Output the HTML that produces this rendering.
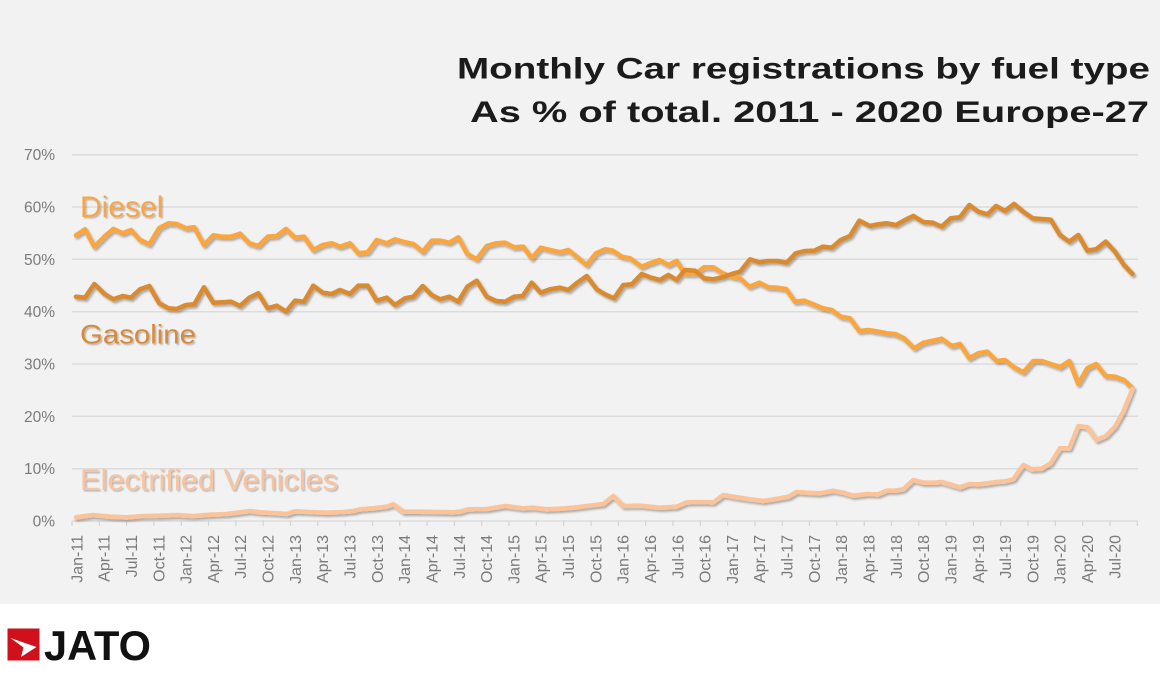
<!DOCTYPE html>
<html>
<head>
<meta charset="utf-8">
<style>
  html, body { margin: 0; padding: 0; background: #ffffff; }
  svg { display: block; }
  text { font-family: "Liberation Sans", Arial, sans-serif; }
</style>
</head>
<body>
<svg width="1160" height="680" viewBox="0 0 1160 680" xmlns="http://www.w3.org/2000/svg">
  <defs>
    <filter id="sh" x="-5%" y="-20%" width="110%" height="140%">
      <feDropShadow dx="1.6" dy="2" stdDeviation="1.1" flood-color="#000" flood-opacity="0.3"/>
    </filter>
    <filter id="tsh" x="-5%" y="-20%" width="110%" height="140%">
      <feDropShadow dx="1.5" dy="1.5" stdDeviation="0.9" flood-color="#000" flood-opacity="0.25"/>
    </filter>
  </defs>

  <!-- backgrounds -->
  <rect x="0" y="0" width="1160" height="680" fill="#ffffff"/>
  <rect x="0" y="0" width="1160" height="604" fill="#f2f2f2"/>

  <!-- title -->
  <text x="457" y="78.5" font-size="30" font-weight="bold" fill="#1b1b1b" textLength="693" lengthAdjust="spacingAndGlyphs">Monthly Car registrations by fuel type</text>
  <text x="470" y="122" font-size="30" font-weight="bold" fill="#1b1b1b" textLength="679" lengthAdjust="spacingAndGlyphs">As % of total. 2011 - 2020 Europe-27</text>

  <!-- gridlines -->
  <g stroke="#dcdcdc" stroke-width="1.5">
    <line x1="72" y1="154.7" x2="1138" y2="154.7"/>
    <line x1="72" y1="207" x2="1138" y2="207"/>
    <line x1="72" y1="259.3" x2="1138" y2="259.3"/>
    <line x1="72" y1="311.7" x2="1138" y2="311.7"/>
    <line x1="72" y1="364" x2="1138" y2="364"/>
    <line x1="72" y1="416.3" x2="1138" y2="416.3"/>
    <line x1="72" y1="468.7" x2="1138" y2="468.7"/>
    <line x1="72" y1="521" x2="1138" y2="521"/>
  </g>

  <!-- y labels -->
  <g font-size="15.5" fill="#7a7a7a" text-anchor="end">
    <text x="55" y="160.2">70%</text>
    <text x="55" y="212.5">60%</text>
    <text x="55" y="264.8">50%</text>
    <text x="55" y="317.2">40%</text>
    <text x="55" y="369.5">30%</text>
    <text x="55" y="421.8">20%</text>
    <text x="55" y="474.2">10%</text>
    <text x="55" y="526.5">0%</text>
  </g>

  <!-- ticks -->
  <g stroke="#d4d4d4" stroke-width="1.2">
    <line x1="72" y1="521" x2="72" y2="526"/>
    <line x1="99.3" y1="521" x2="99.3" y2="526"/>
    <line x1="126.6" y1="521" x2="126.6" y2="526"/>
    <line x1="153.9" y1="521" x2="153.9" y2="526"/>
    <line x1="181.3" y1="521" x2="181.3" y2="526"/>
    <line x1="208.6" y1="521" x2="208.6" y2="526"/>
    <line x1="235.9" y1="521" x2="235.9" y2="526"/>
    <line x1="263.2" y1="521" x2="263.2" y2="526"/>
    <line x1="290.5" y1="521" x2="290.5" y2="526"/>
    <line x1="317.8" y1="521" x2="317.8" y2="526"/>
    <line x1="345.2" y1="521" x2="345.2" y2="526"/>
    <line x1="372.5" y1="521" x2="372.5" y2="526"/>
    <line x1="399.8" y1="521" x2="399.8" y2="526"/>
    <line x1="427.1" y1="521" x2="427.1" y2="526"/>
    <line x1="454.4" y1="521" x2="454.4" y2="526"/>
    <line x1="481.7" y1="521" x2="481.7" y2="526"/>
    <line x1="509" y1="521" x2="509" y2="526"/>
    <line x1="536.4" y1="521" x2="536.4" y2="526"/>
    <line x1="563.7" y1="521" x2="563.7" y2="526"/>
    <line x1="591" y1="521" x2="591" y2="526"/>
    <line x1="618.3" y1="521" x2="618.3" y2="526"/>
    <line x1="645.6" y1="521" x2="645.6" y2="526"/>
    <line x1="672.9" y1="521" x2="672.9" y2="526"/>
    <line x1="700.3" y1="521" x2="700.3" y2="526"/>
    <line x1="727.6" y1="521" x2="727.6" y2="526"/>
    <line x1="754.9" y1="521" x2="754.9" y2="526"/>
    <line x1="782.2" y1="521" x2="782.2" y2="526"/>
    <line x1="809.5" y1="521" x2="809.5" y2="526"/>
    <line x1="836.8" y1="521" x2="836.8" y2="526"/>
    <line x1="864.2" y1="521" x2="864.2" y2="526"/>
    <line x1="891.5" y1="521" x2="891.5" y2="526"/>
    <line x1="918.8" y1="521" x2="918.8" y2="526"/>
    <line x1="946.1" y1="521" x2="946.1" y2="526"/>
    <line x1="973.4" y1="521" x2="973.4" y2="526"/>
    <line x1="1000.7" y1="521" x2="1000.7" y2="526"/>
    <line x1="1028" y1="521" x2="1028" y2="526"/>
    <line x1="1055.4" y1="521" x2="1055.4" y2="526"/>
    <line x1="1082.7" y1="521" x2="1082.7" y2="526"/>
    <line x1="1110" y1="521" x2="1110" y2="526"/>
    <line x1="1137.3" y1="521" x2="1137.3" y2="526"/>
  </g>

  <!-- x labels (rotated) -->
  <g font-size="16" fill="#7a7a7a" text-anchor="end">
    <text transform="translate(82.4,535) rotate(-90)">Jan-11</text>
    <text transform="translate(109.7,535) rotate(-90)">Apr-11</text>
    <text transform="translate(137,535) rotate(-90)">Jul-11</text>
    <text transform="translate(164.3,535) rotate(-90)">Oct-11</text>
    <text transform="translate(191.6,535) rotate(-90)">Jan-12</text>
    <text transform="translate(218.9,535) rotate(-90)">Apr-12</text>
    <text transform="translate(246.2,535) rotate(-90)">Jul-12</text>
    <text transform="translate(273.6,535) rotate(-90)">Oct-12</text>
    <text transform="translate(300.9,535) rotate(-90)">Jan-13</text>
    <text transform="translate(328.2,535) rotate(-90)">Apr-13</text>
    <text transform="translate(355.5,535) rotate(-90)">Jul-13</text>
    <text transform="translate(382.8,535) rotate(-90)">Oct-13</text>
    <text transform="translate(410.1,535) rotate(-90)">Jan-14</text>
    <text transform="translate(437.5,535) rotate(-90)">Apr-14</text>
    <text transform="translate(464.8,535) rotate(-90)">Jul-14</text>
    <text transform="translate(492.1,535) rotate(-90)">Oct-14</text>
    <text transform="translate(519.4,535) rotate(-90)">Jan-15</text>
    <text transform="translate(546.7,535) rotate(-90)">Apr-15</text>
    <text transform="translate(574,535) rotate(-90)">Jul-15</text>
    <text transform="translate(601.4,535) rotate(-90)">Oct-15</text>
    <text transform="translate(628.7,535) rotate(-90)">Jan-16</text>
    <text transform="translate(656,535) rotate(-90)">Apr-16</text>
    <text transform="translate(683.3,535) rotate(-90)">Jul-16</text>
    <text transform="translate(710.6,535) rotate(-90)">Oct-16</text>
    <text transform="translate(737.9,535) rotate(-90)">Jan-17</text>
    <text transform="translate(765.2,535) rotate(-90)">Apr-17</text>
    <text transform="translate(792.6,535) rotate(-90)">Jul-17</text>
    <text transform="translate(819.9,535) rotate(-90)">Oct-17</text>
    <text transform="translate(847.2,535) rotate(-90)">Jan-18</text>
    <text transform="translate(874.5,535) rotate(-90)">Apr-18</text>
    <text transform="translate(901.8,535) rotate(-90)">Jul-18</text>
    <text transform="translate(929.1,535) rotate(-90)">Oct-18</text>
    <text transform="translate(956.5,535) rotate(-90)">Jan-19</text>
    <text transform="translate(983.8,535) rotate(-90)">Apr-19</text>
    <text transform="translate(1011.1,535) rotate(-90)">Jul-19</text>
    <text transform="translate(1038.4,535) rotate(-90)">Oct-19</text>
    <text transform="translate(1065.7,535) rotate(-90)">Jan-20</text>
    <text transform="translate(1093,535) rotate(-90)">Apr-20</text>
    <text transform="translate(1120.3,535) rotate(-90)">Jul-20</text>
  </g>

  <!-- series -->
  <g fill="none" stroke-width="4.6" stroke-linejoin="round" stroke-linecap="round" filter="url(#sh)">
    <!-- Diesel -->
    <polyline stroke="#f9a540" points="76,235.3 85,229.3 94.3,246.7 105,236 113.3,229 122.7,233.3 131,230 140,240 149.3,244.3 159.3,228 168.3,223.3 176.7,224 186,228.3 194.3,227.3 204,245 213.3,235.3 221.7,236.7 231,236.7 240,233.7 249.3,243.3 258.3,246 267.7,236.7 276.7,236 286,229 295,237.7 304,236.7 313.3,250 322.7,245 331.7,243.3 340,246.7 350,243.3 358.3,253.3 367.7,252.3 376.7,240 386.7,243.3 395,239.3 403.3,241.7 413.3,244 422.7,251.7 431.7,240.7 440.7,240.7 449.3,242.7 458.3,237.3 467.3,254 476.7,259.3 486.7,246 496,243.3 505,242.7 514,247.3 523.3,246.7 531.7,258.3 540.7,247.7 550,250 560,252.3 568.3,250 576.7,256.7 586.7,265 596,253.3 605,249.3 612.7,250.7 621.7,256.7 630,258.3 641.7,266.7 650,263.3 659.3,260 668.3,265 676.7,261 685,274 695,274 704,267.3 713.3,267.3 722.7,273.3 731.7,276.7 740,278.3 749.3,286.7 759.3,282.7 768.3,287.3 776.7,287.7 786,289 795,301.7 804,300.7 813.3,304.3 822.7,308.3 831.7,310 840.7,316.7 850,318.3 859.3,331 868.3,330 878.3,331.7 886.7,333.3 895,334 904,338.3 914.3,348.3 923.3,342.7 932.7,340.7 941.7,338.7 951.7,346 960,344 969.3,358.3 978.3,353.3 987.3,351.7 996.7,361 1005,360 1014,367.3 1023.3,372.3 1033.3,361 1041.7,361 1051.7,364.3 1060,367.3 1069.3,361 1078.3,384 1087.3,368.3 1096,364 1105.7,376 1115,376.7 1124,380 1132.5,388.3"/>
    <!-- Gasoline -->
    <polyline stroke="#d98b33" points="76,296.7 85,297.7 94.3,284 105,294.3 113.3,299.3 122.7,296 131,297.7 140,289.3 149.3,286 159.3,303.3 168.3,308.3 176.7,309 186,305 194.3,304.3 204,287.3 213.3,302.7 221.7,302.3 231,301.7 240,306 249.3,297.7 258.3,293.3 267.7,308.3 276.7,305.7 286,311.7 295,300.7 304,301.7 313.3,285.7 322.7,292.7 331.7,294 340,290 350,294 358.3,285.7 367.7,285.7 376.7,300.7 386.7,297.7 395,305 405,298.3 413.3,296.7 422.7,286 431.7,295 440,299.3 449.3,296.7 458.3,301.7 467.3,286.7 476.7,280.7 486.7,296.7 496,301 505,301.7 514,296.7 522.7,296 531.7,282.7 540.7,292.7 550,289.3 560,287.7 568.3,290 577.3,282.7 586.7,276 596.7,289.3 605,294.3 614,298.3 623.3,285 631.7,284.3 641.7,274 650,277.3 660,280 668.3,275 676.7,280 685,270 695,270.7 704,278.3 713.3,279.3 722.7,277.3 731.7,274 740,271.7 750,259.3 759.3,262.3 768.3,261 777.3,261 786.7,262.7 795.7,253.3 805,251 814.3,250.7 822.7,246.7 831.7,247.7 840.7,240 850,236 859.3,220.7 870,226 878.3,224.3 886.7,223.3 896,225 905,220 913.3,216 923.3,222 932.7,222.7 941.7,226.7 950.7,218.3 960,217.3 969.3,205 978.3,211.7 987.7,214.3 996,206 1005,211 1014,204 1023.3,211.7 1032.7,218.3 1041.7,219 1050.7,219.7 1060,235 1069.3,241.7 1078.3,235 1087.3,250.7 1096,249.3 1105.7,241.7 1115,251.7 1124,265 1132.5,274"/>
    <!-- Electrified -->
    <polyline stroke="#fbc39a" points="76,517.3 93.3,515 110,516.7 126.7,517.3 143.3,516 160,515.7 176.7,515 193.3,516 210,514.7 226.7,514 240,512.3 250,511 260,512.3 273.3,513 286.7,514 295,511.3 310,512 326.7,512.7 343.3,512 353.3,511 360,509.3 373.3,508.3 386.7,506.7 393.3,504.3 403.3,511.7 420,511.7 436.7,512 453.3,512.3 460,511.7 468.3,509.3 486.7,509 505,506 523.3,508.3 533.3,507.7 546.7,509.3 560,508.7 573.3,507.7 586.7,506 603.3,504 613.3,496 623.3,506 640,505.7 660,507.7 676.7,506.7 686.7,502.3 700,502 713.3,502.3 723.3,495 736.7,497.3 750,499.3 763.3,501 780,498.3 788.3,496.7 796.7,492 806.7,492.7 820,493.3 833.3,490.7 843.3,492.7 853.3,495.7 866.7,494 878.3,494.3 886.7,490.7 895,490.7 903.3,489.3 913.3,480 923.3,482.7 933.3,482.7 941.7,482 951.7,485 960,487.3 969.3,484 978.3,484.3 987.7,483.3 996,482 1005,481.3 1013.3,479.3 1023.3,465 1031.7,469.3 1041.7,468.7 1050.7,463.3 1060,448.3 1069.3,448.3 1078.3,426 1087.3,427.3 1096.7,440 1106,436 1115,426.7 1123.3,411.7 1132.5,389"/>
  </g>

  <!-- series labels -->
  <g filter="url(#tsh)">
    <text x="80" y="217" font-size="30" fill="#f6a548">Diesel</text>
    <text x="80" y="343.3" font-size="26.5" fill="#d68a3a" textLength="116" lengthAdjust="spacingAndGlyphs">Gasoline</text>
    <text x="80" y="490" font-size="30" fill="#f8c4a0" textLength="258" lengthAdjust="spacingAndGlyphs">Electrified Vehicles</text>
  </g>

  <!-- JATO logo -->
  <rect x="7.5" y="628.5" width="32" height="32" fill="#d0111b"/>
  <polygon points="10.5,638 36.5,647 21,657 23.5,647.5" fill="#ffffff"/>
  <text x="44" y="660" font-size="42" font-weight="bold" fill="#111111" textLength="107" lengthAdjust="spacingAndGlyphs">JATO</text>
</svg>
</body>
</html>
